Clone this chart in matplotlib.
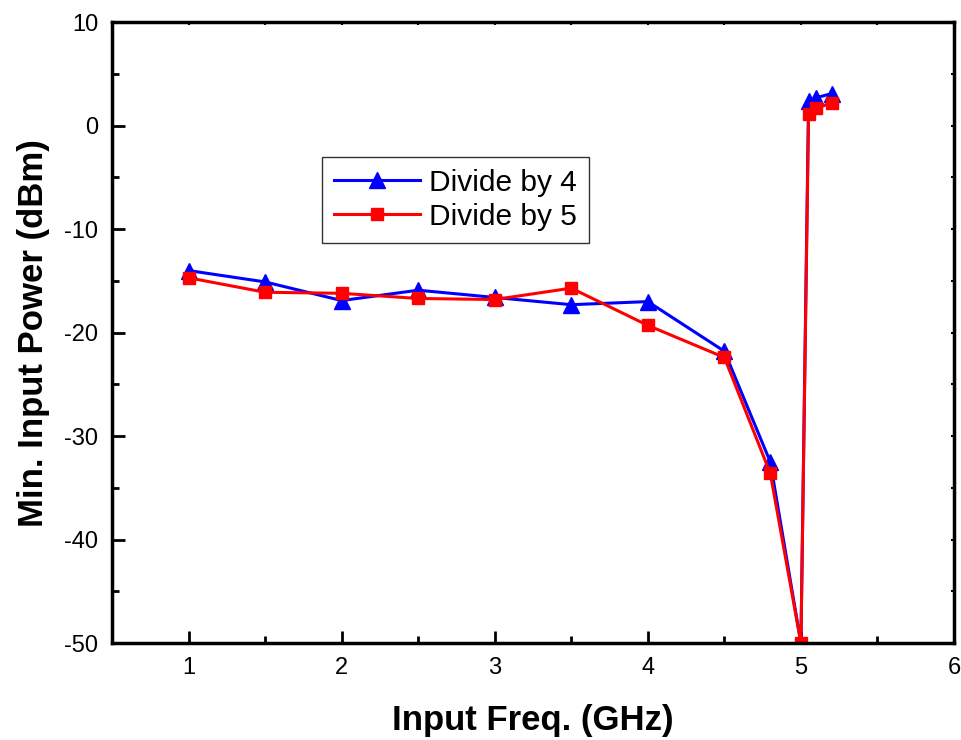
import numpy as np
import matplotlib
matplotlib.use("Agg")
import matplotlib.pyplot as plt
from matplotlib.ticker import MultipleLocator

plt.rcParams['font.family'] = ['Liberation Sans', 'DejaVu Sans']
plt.rcParams['axes.unicode_minus'] = False

# data
freq = [1.0, 1.5, 2.0, 2.5, 3.0, 3.5, 4.0, 4.5, 4.8, 5.0, 5.05, 5.1, 5.2]
div4 = [-14.0, -15.1, -16.9, -15.9, -16.6, -17.3, -17.0, -21.8, -32.5, -50.0, 2.4, 2.7, 3.1]
div5 = [-14.7, -16.1, -16.2, -16.7, -16.8, -15.7, -19.3, -22.4, -33.6, -50.0, 1.1, 1.7, 2.2]

fig = plt.figure(figsize=(9.62, 7.40), dpi=100)
ax = fig.add_axes([0.1164, 0.131, 0.8753, 0.839])

ax.plot(freq, div4, '-^', color='blue', lw=2.2, ms=11, label='Divide by 4')
ax.plot(freq, div5, '-s', color='red', lw=2.2, ms=9, label='Divide by 5')

ax.set_xlim(0.5, 6)
ax.set_ylim(-50, 10)
ax.xaxis.set_major_locator(MultipleLocator(1))
ax.xaxis.set_minor_locator(MultipleLocator(0.5))
ax.yaxis.set_major_locator(MultipleLocator(10))
ax.yaxis.set_minor_locator(MultipleLocator(5))

for s in ax.spines.values():
    s.set_linewidth(2.5)

ax.tick_params(which='both', direction='in', width=2, labelsize=17)
ax.tick_params(which='major', length=9, pad=10)
ax.tick_params(which='minor', length=5)

# tiny ticks on top and right edges
top = ax.secondary_xaxis('top')
right = ax.secondary_yaxis('right')
for sec in (top, right):
    sec.tick_params(which='both', direction='in', width=1.5, length=2,
                    labeltop=False, labelright=False)
    for s in sec.spines.values():
        s.set_visible(False)
top.xaxis.set_major_locator(MultipleLocator(1))
top.xaxis.set_minor_locator(MultipleLocator(0.5))
top.set_xticklabels([])
right.yaxis.set_major_locator(MultipleLocator(10))
right.yaxis.set_minor_locator(MultipleLocator(5))
right.set_yticklabels([])

ax.set_xlabel('Input Freq. (GHz)', fontsize=25, fontweight='bold', labelpad=18)
ax.set_ylabel('Min. Input Power (dBm)', fontsize=25, fontweight='bold', labelpad=10)

leg = ax.legend(loc='upper left', bbox_to_anchor=(0.249, 0.783), fontsize=21.5,
                frameon=True, fancybox=False, edgecolor='black',
                handlelength=2.9, borderpad=0.4, labelspacing=0.2,
                handletextpad=0.3, borderaxespad=0)
leg.get_frame().set_linewidth(1.0)

fig.savefig('out.png', dpi=100)
